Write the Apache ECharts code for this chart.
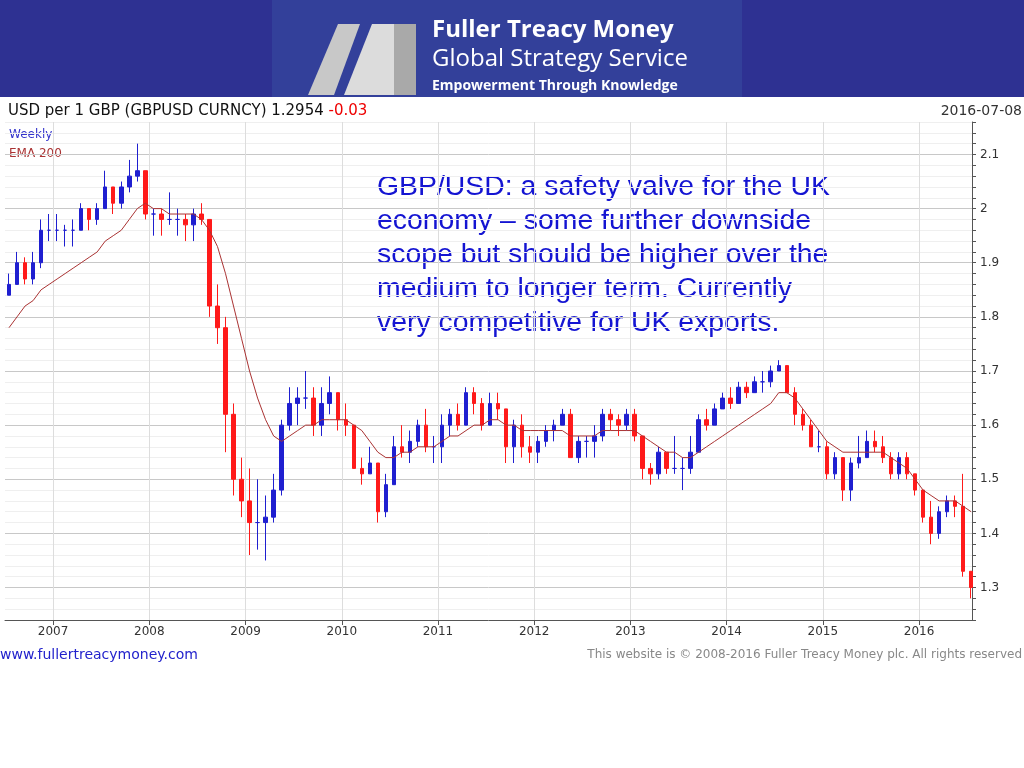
<!DOCTYPE html>
<html>
<head>
<meta charset="UTF-8">
<title>GBPUSD</title>
<script src="https://cdn.jsdelivr.net/npm/echarts@6/dist/echarts.min.js"></script>
<style>
  html, body { margin: 0; padding: 0; background: #fff; }
  #myChart { width: 1024px; height: 768px; }
</style>
</head>
<body>
<div id="myChart"></div>
<script>
// monthly bars, Jul 2006 .. Jul 2016
var closes = [
  1.86, 1.90, 1.87, 1.90, 1.96, 1.96,
  1.96, 1.96, 1.96, 2.00, 1.98, 2.00, 2.04, 2.01, 2.04, 2.06, 2.07, 1.99,
  1.99, 1.98, 1.98, 1.98, 1.97, 1.99, 1.98, 1.82, 1.78, 1.62, 1.50, 1.46,
  1.42, 1.42, 1.43, 1.48, 1.60, 1.64, 1.65, 1.65, 1.60, 1.64, 1.66, 1.61,
  1.60, 1.52, 1.51, 1.53, 1.44, 1.49, 1.56, 1.55, 1.57, 1.60, 1.56, 1.56,
  1.60, 1.62, 1.60, 1.66, 1.64, 1.60, 1.64, 1.63, 1.56, 1.60, 1.56, 1.55,
  1.57, 1.59, 1.60, 1.62, 1.54, 1.57, 1.57, 1.58, 1.62, 1.61, 1.60, 1.62,
  1.58, 1.52, 1.51, 1.55, 1.52, 1.52, 1.52, 1.55, 1.61, 1.60, 1.63, 1.65,
  1.64, 1.67, 1.66, 1.68, 1.68, 1.70, 1.71, 1.66, 1.62, 1.60, 1.56, 1.56,
  1.51, 1.54, 1.48, 1.53, 1.54, 1.57, 1.56, 1.54, 1.51, 1.54, 1.51, 1.48,
  1.43, 1.40, 1.44, 1.46, 1.45, 1.33, 1.30
];
var highs = [
  1.88, 1.92, 1.91, 1.92, 1.98, 1.99,
  1.99, 1.97, 1.98, 2.01, 2.00, 2.01, 2.07, 2.04, 2.05, 2.09, 2.12, 2.07,
  2.00, 2.00, 2.03, 2.00, 1.99, 2.00, 2.01, 1.98, 1.86, 1.80, 1.64, 1.54,
  1.52, 1.50, 1.47, 1.51, 1.61, 1.67, 1.67, 1.70, 1.67, 1.67, 1.69, 1.66,
  1.64, 1.60, 1.54, 1.56, 1.53, 1.51, 1.58, 1.60, 1.59, 1.61, 1.63, 1.58,
  1.62, 1.63, 1.64, 1.67, 1.67, 1.65, 1.66, 1.66, 1.63, 1.61, 1.62, 1.58,
  1.58, 1.60, 1.61, 1.63, 1.63, 1.58, 1.58, 1.60, 1.63, 1.63, 1.62, 1.63,
  1.63, 1.58, 1.53, 1.56, 1.55, 1.58, 1.54, 1.58, 1.62, 1.63, 1.64, 1.66,
  1.67, 1.68, 1.68, 1.69, 1.70, 1.71, 1.72, 1.71, 1.67, 1.63, 1.61, 1.59,
  1.57, 1.55, 1.54, 1.54, 1.58, 1.59, 1.59, 1.58, 1.55, 1.55, 1.55, 1.51,
  1.48, 1.46, 1.45, 1.47, 1.47, 1.51, 1.33
];
var lows = [
  1.84, 1.86, 1.86, 1.86, 1.89, 1.94,
  1.94, 1.93, 1.93, 1.96, 1.96, 1.97, 2.00, 1.99, 2.00, 2.03, 2.05, 1.98,
  1.95, 1.95, 1.97, 1.95, 1.94, 1.94, 1.97, 1.80, 1.75, 1.55, 1.47, 1.43,
  1.36, 1.37, 1.35, 1.42, 1.47, 1.59, 1.60, 1.63, 1.58, 1.58, 1.62, 1.59,
  1.58, 1.52, 1.49, 1.51, 1.42, 1.43, 1.49, 1.54, 1.53, 1.56, 1.55, 1.53,
  1.53, 1.58, 1.59, 1.60, 1.62, 1.59, 1.60, 1.61, 1.53, 1.53, 1.54, 1.53,
  1.53, 1.56, 1.57, 1.60, 1.54, 1.53, 1.54, 1.54, 1.57, 1.59, 1.58, 1.59,
  1.57, 1.50, 1.49, 1.50, 1.51, 1.51, 1.48, 1.51, 1.55, 1.59, 1.60, 1.63,
  1.63, 1.64, 1.65, 1.66, 1.66, 1.67, 1.70, 1.66, 1.60, 1.59, 1.56, 1.55,
  1.50, 1.50, 1.46, 1.46, 1.52, 1.54, 1.55, 1.53, 1.50, 1.50, 1.50, 1.47,
  1.42, 1.38, 1.39, 1.43, 1.43, 1.32, 1.28
];
var ema200 = [
  1.78, 1.80, 1.82, 1.83, 1.85, 1.86,
  1.87, 1.88, 1.89, 1.90, 1.91, 1.92, 1.94, 1.95, 1.96, 1.98, 2.00, 2.01,
  2.00, 2.00, 1.99, 1.99, 1.99, 1.99, 1.98, 1.96, 1.93, 1.88, 1.82, 1.76,
  1.70, 1.65, 1.61, 1.58, 1.57, 1.58, 1.59, 1.60, 1.60, 1.61, 1.61, 1.61,
  1.61, 1.60, 1.59, 1.57, 1.55, 1.54, 1.54, 1.55, 1.55, 1.56, 1.56, 1.56,
  1.57, 1.58, 1.58, 1.59, 1.60, 1.60, 1.61, 1.61, 1.60, 1.60, 1.59, 1.59,
  1.59, 1.59, 1.59, 1.59, 1.58, 1.58, 1.58, 1.58, 1.59, 1.59, 1.59, 1.59,
  1.59, 1.58, 1.57, 1.56, 1.55, 1.55, 1.54, 1.54, 1.55, 1.56, 1.57, 1.58,
  1.59, 1.60, 1.61, 1.62, 1.63, 1.64, 1.66, 1.66, 1.65, 1.63, 1.61, 1.59,
  1.57, 1.56, 1.55, 1.55, 1.55, 1.55, 1.55, 1.55, 1.54, 1.53, 1.52, 1.50,
  1.48, 1.47, 1.46, 1.46, 1.46, 1.45, 1.44
];
var firstOpen = 1.84;
var yearLabels = [2007, 2008, 2009, 2010, 2011, 2012, 2013, 2014, 2015, 2016];
var noteLines = [
  'GBP/USD: a safety valve for the UK',
  'economy \u2013 some further downside',
  'scope but should be higher over the',
  'medium to longer term. Currently',
  'very competitive for UK exports.'
];

// x is months counted from Jan 2006; bars sit mid-month
function monthPos(i) {
  return 6.5 + i;
}

var candles = [];
var emaData = [];
for (var i = 0; i < closes.length; i++) {
  var open = i == 0 ? firstOpen : closes[i - 1];
  candles.push([monthPos(i), open, closes[i], lows[i], highs[i]]);
  emaData.push([monthPos(i), ema200[i]]);
}
var yearTicks = yearLabels.map(function(y) { return (y - 2006) * 12; });

var myChart = echarts.init(document.getElementById('myChart'));
var font = 'DejaVu Sans';
myChart.setOption({
  animation: false,
  backgroundColor: '#fff',
  grid: { left: 5, right: 52, top: 122, bottom: 148 },
  xAxis: {
    type: 'value',
    min: 6,
    max: 126.6,
    axisLine: { show: true, onZero: false, lineStyle: { color: '#555' } },
    axisTick: { show: true, customValues: yearTicks, lineStyle: { color: '#555' } },
    axisLabel: {
      customValues: yearTicks,
      formatter: function(v) { return String(2006 + Math.round(v / 12)); },
      color: '#333', fontFamily: font, fontSize: 12, margin: 6
    },
    splitLine: { show: true, lineStyle: { color: '#ddd' } }
  },
  yAxis: {
    type: 'value',
    position: 'right',
    min: 1.24,
    max: 2.16,
    interval: 0.02,
    axisLine: { show: true, lineStyle: { color: '#555' } },
    axisTick: { show: true, length: 4, lineStyle: { color: '#555' } },
    axisLabel: {
      color: '#333', fontFamily: font, fontSize: 12, margin: 8,
      formatter: function(v) {
        var r = Math.round(v * 10) / 10;
        return Math.abs(v - r) < 0.001 ? String(r) : '';
      }
    },
    splitLine: { lineStyle: { color: ['#efefef', '#efefef', '#efefef', '#c8c8c8', '#efefef'] } }
  },
  series: [{
    type: 'candlestick',
    data: candles,
    barMaxWidth: 5,
    itemStyle: { color: '#1f1fd0', color0: '#ff1a1a', borderColor: '#1f1fd0', borderColor0: '#ff1a1a' }
  }, {
    type: 'line',
    data: emaData,
    showSymbol: false,
    lineStyle: { color: '#a33', width: 1 },
    z: 3
  }],
  graphic: [
    { type: 'rect', shape: { x: 0, y: 0, width: 1024, height: 97 }, style: { fill: '#2e3192' } },
    { type: 'rect', shape: { x: 272, y: 0, width: 470, height: 97 }, style: { fill: '#33409a' } },
    { type: 'polygon', shape: { points: [[308, 95], [338, 24], [360, 24], [334, 95]] }, style: { fill: '#c8c8c8' } },
    { type: 'polygon', shape: { points: [[344, 95], [372, 24], [394, 24], [394, 95]] }, style: { fill: '#dcdcdc' } },
    { type: 'polygon', shape: { points: [[394, 24], [416, 24], [416, 95], [394, 95]] }, style: { fill: '#a9a9a9' } },
    { type: 'text', left: 432, top: 18, style: { text: 'Fuller Treacy Money', fill: '#fff', font: 'bold 24px "Open Sans"' } },
    { type: 'text', left: 432, top: 47, style: { text: 'Global Strategy Service', fill: '#fff', font: '24px "Open Sans"' } },
    { type: 'text', left: 432, top: 79, style: { text: 'Empowerment Through Knowledge', fill: '#fff', font: 'bold 14px "Open Sans"' } },
    { type: 'text', left: 8, top: 104, style: {
      text: 'USD per 1 GBP (GBPUSD CURNCY) 1.2954 {r|-0.03}', fill: '#111', font: '15px "DejaVu Sans"',
      rich: { r: { fill: '#e00', font: '15px "DejaVu Sans"' } }
    } },
    { type: 'text', right: 2, top: 104, style: { text: '2016-07-08', fill: '#333', font: '14px "DejaVu Sans"' } },
    { type: 'text', left: 9, top: 129, style: { text: 'Weekly', fill: '#3333cc', font: '12px "DejaVu Sans"' } },
    { type: 'text', left: 9, top: 148, style: { text: 'EMA 200', fill: '#aa3333', font: '12px "DejaVu Sans"' } },
    { type: 'text', left: 377, top: 170, style: { text: noteLines.join('\n'), fill: '#1414d2', font: '28.4px "Liberation Sans"', lineHeight: 34 } },
    { type: 'text', left: 0, top: 648, style: { text: 'www.fullertreacymoney.com', fill: '#2222cc', font: '14px "DejaVu Sans"' } },
    { type: 'text', right: 2, top: 649, style: { text: 'This website is \u00a9 2008-2016 Fuller Treacy Money plc. All rights reserved', fill: '#888', font: '12px "DejaVu Sans"' } }
  ]
});
</script>
</body>
</html>
